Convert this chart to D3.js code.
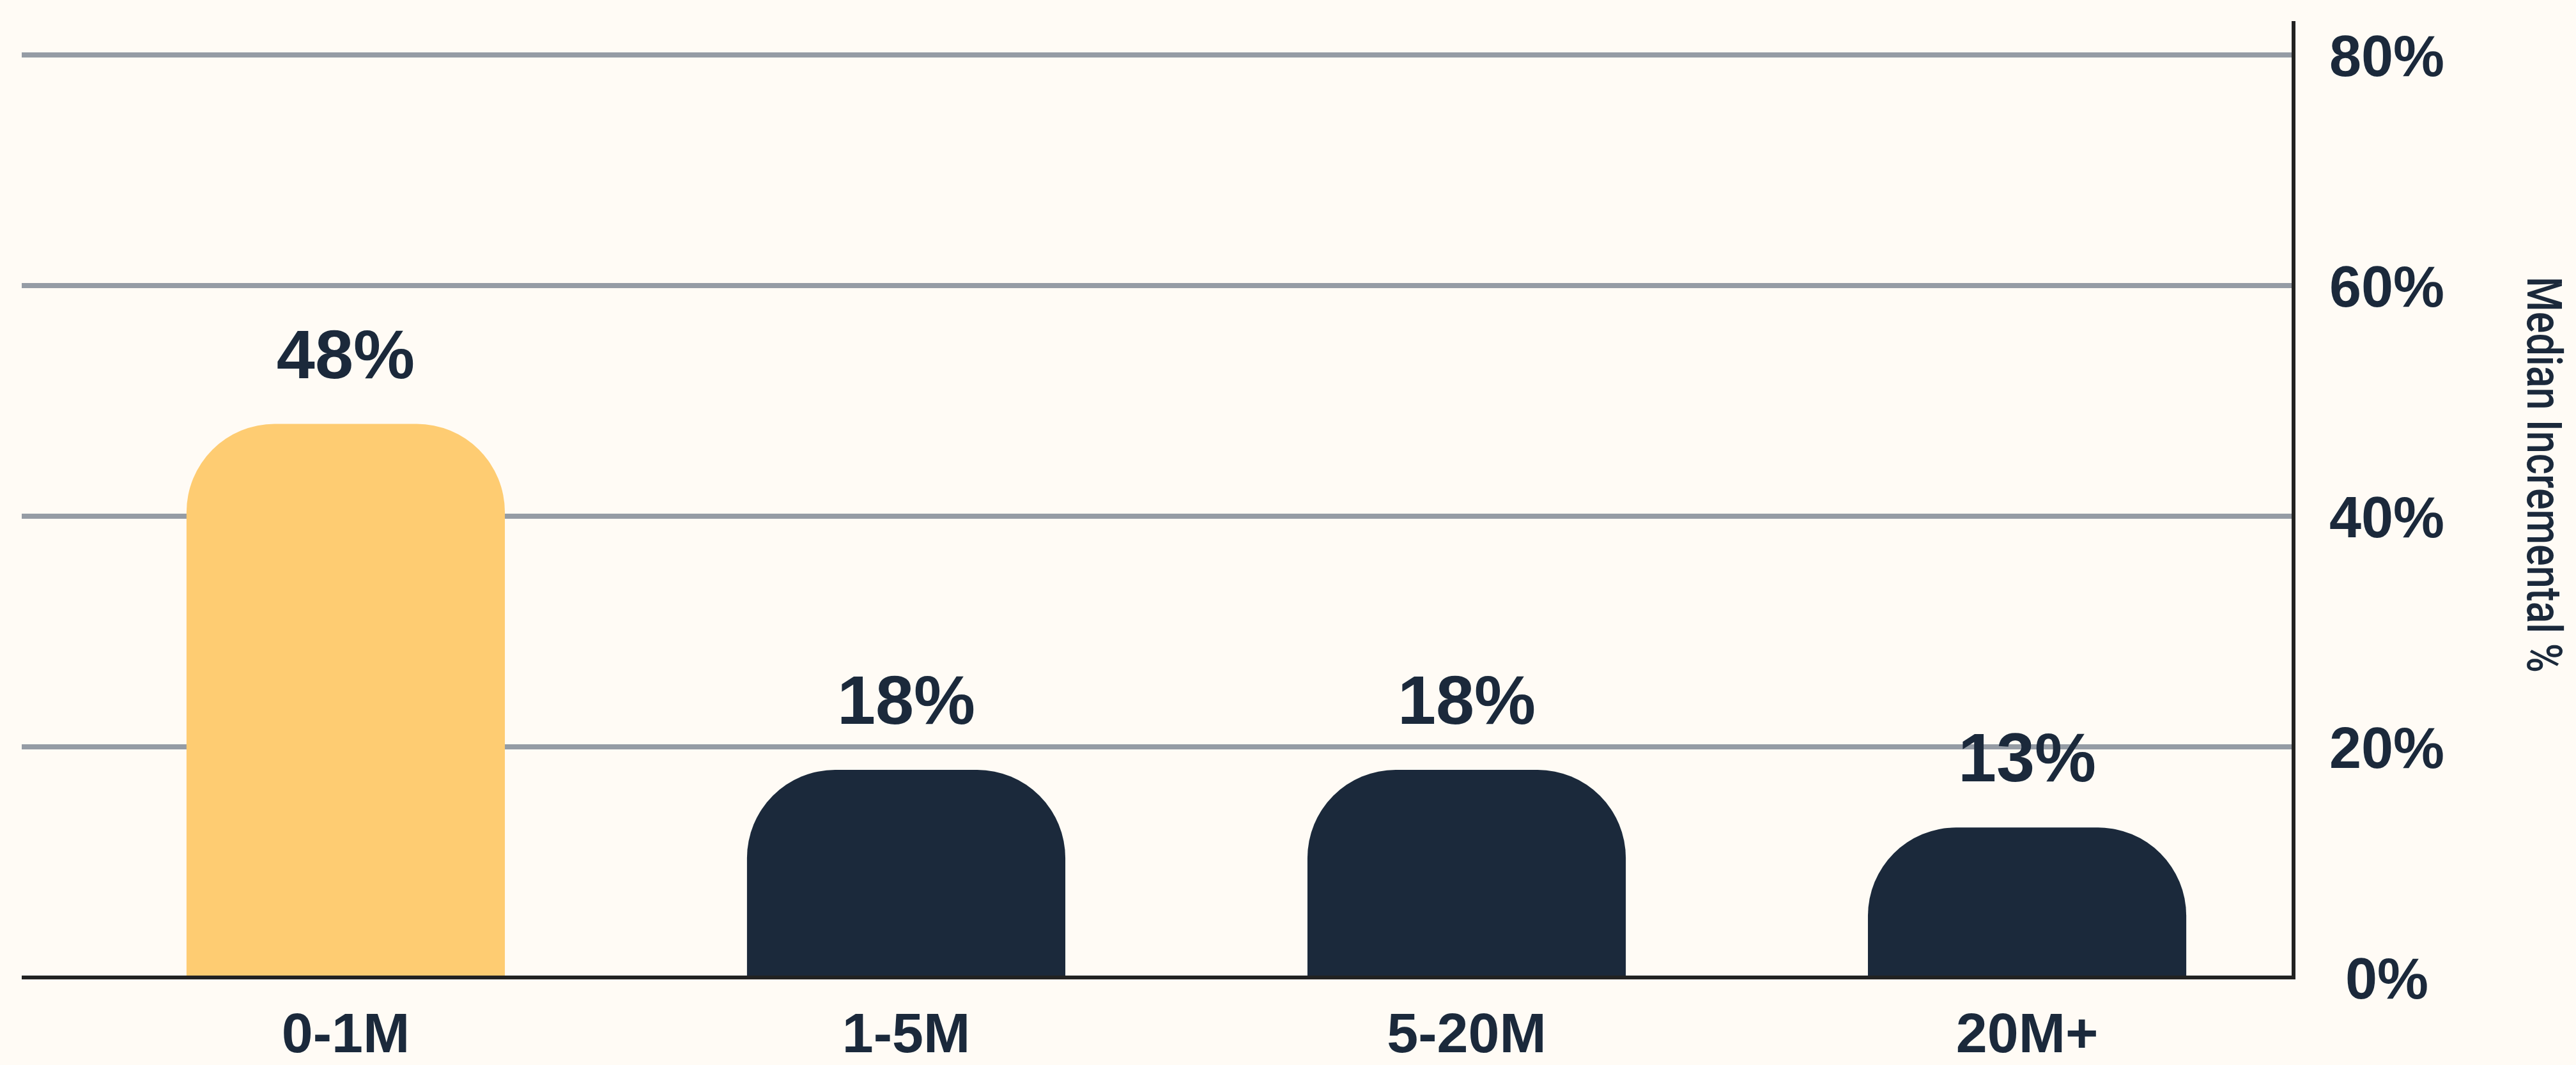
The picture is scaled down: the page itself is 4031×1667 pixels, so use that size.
<!DOCTYPE html>
<html>
<head>
<meta charset="utf-8">
<script src="https://cdn.jsdelivr.net/npm/d3@7"></script>
<style>
  html, body { margin: 0; padding: 0; background: #FFFBF5; }
  svg { display: block; }
  text { font-family: "Liberation Sans", Arial, Helvetica, sans-serif; fill: #1B293B; }
</style>
</head>
<body>
<svg id="chart"></svg>
<script>
// Revenue bands and their median incremental share
const categories = ["0-1M", "1-5M", "5-20M", "20M+"];
const values = [48, 18, 18, 13];
const highlight = ["0-1M"];
const tickValues = [0, 20, 40, 60, 80];
const axisTitle = "Median Incremental %";

const width = 4031, height = 1667;
const margin = { left: 34, right: 445, top: 86, bottom: 137 };
const plotRight = width - margin.right;
const plotBottom = height - margin.bottom;

const svg = d3.select("#chart").attr("width", width).attr("height", height);
svg.append("rect").attr("width", width).attr("height", height).attr("fill", "#FFFBF5");

const x = d3.scaleBand()
  .domain(categories)
  .range([margin.left, plotRight])
  .paddingInner(0.432)
  .paddingOuter(0.241)
  .align(0.61);

const y = d3.scaleLinear()
  .domain([0, 80])
  .range([plotBottom, margin.top]);

const rows = categories.map((c, i) => ({ c, v: values[i] }));

// horizontal gridlines
svg.append("g")
  .selectAll("line")
  .data(tickValues.filter(d => d > 0))
  .join("line")
  .attr("x1", margin.left)
  .attr("x2", plotRight)
  .attr("y1", d => y(d))
  .attr("y2", d => y(d))
  .attr("stroke", "#959CA5")
  .attr("stroke-width", 8);

// bars with rounded upper corners
function roundedTop(x0, y0, w, h, r) {
  r = Math.min(r, w / 2, h);
  return `M${x0},${y0 + h}V${y0 + r}A${r},${r} 0 0 1 ${x0 + r},${y0}` +
         `H${x0 + w - r}A${r},${r} 0 0 1 ${x0 + w},${y0 + r}V${y0 + h}Z`;
}
const cornerRadius = 138;

svg.append("g")
  .selectAll("path")
  .data(rows)
  .join("path")
  .attr("d", d => roundedTop(x(d.c), y(d.v), x.bandwidth(), y(0) - y(d.v), cornerRadius))
  .attr("fill", d => highlight.includes(d.c) ? "#FECC72" : "#1B293B");

// value labels above bars
svg.append("g")
  .selectAll("text")
  .data(rows)
  .join("text")
  .attr("x", d => x(d.c) + x.bandwidth() / 2)
  .attr("y", d => y(d.v) - 72)
  .attr("text-anchor", "middle")
  .attr("font-size", 108)
  .attr("font-weight", "bold")
  .text(d => d.v + "%");

// category axis
const xAxis = svg.append("g")
  .attr("transform", `translate(0,${plotBottom})`)
  .call(d3.axisBottom(x).tickSize(0).tickPadding(0));
xAxis.select(".domain").remove();
xAxis.selectAll("text")
  .attr("dy", null)
  .attr("y", 117)
  .attr("font-size", 88)
  .attr("font-weight", "bold")
  .style("font-family", '"Liberation Sans", Arial, sans-serif')
  .attr("fill", "#1B293B");

// baseline
svg.append("line")
  .attr("x1", margin.left)
  .attr("x2", plotRight + 6)
  .attr("y1", y(0))
  .attr("y2", y(0))
  .attr("stroke", "#222222")
  .attr("stroke-width", 6);

// right value axis
const axisX = plotRight + 3;
const axisOverhang = 53;
svg.append("line")
  .attr("x1", axisX)
  .attr("x2", axisX)
  .attr("y1", y(0) + 3)
  .attr("y2", y(80) - axisOverhang)
  .attr("stroke", "#222222")
  .attr("stroke-width", 6);

const yAxis = svg.append("g")
  .attr("transform", `translate(${axisX},0)`)
  .call(d3.axisRight(y).tickValues(tickValues).tickFormat(d => d + "%").tickSize(0).tickPadding(146));
yAxis.select(".domain").remove();
yAxis.selectAll("text")
  .attr("text-anchor", "middle")
  .attr("dy", "0.36em")
  .attr("font-size", 90)
  .attr("font-weight", "bold")
  .style("font-family", '"Liberation Sans", Arial, sans-serif')
  .attr("fill", "#1B293B");

// axis title, reading downward, in a narrow setting
svg.append("text")
  .attr("transform", `translate(3955, 743) rotate(90)`)
  .attr("text-anchor", "middle")
  .attr("font-size", 76)
  .attr("font-weight", 500)
  .style("font-family", "Roboto, 'Liberation Sans', sans-serif")
  .attr("textLength", 620)
  .attr("lengthAdjust", "spacingAndGlyphs")
  .text(axisTitle);
</script>
</body>
</html>
